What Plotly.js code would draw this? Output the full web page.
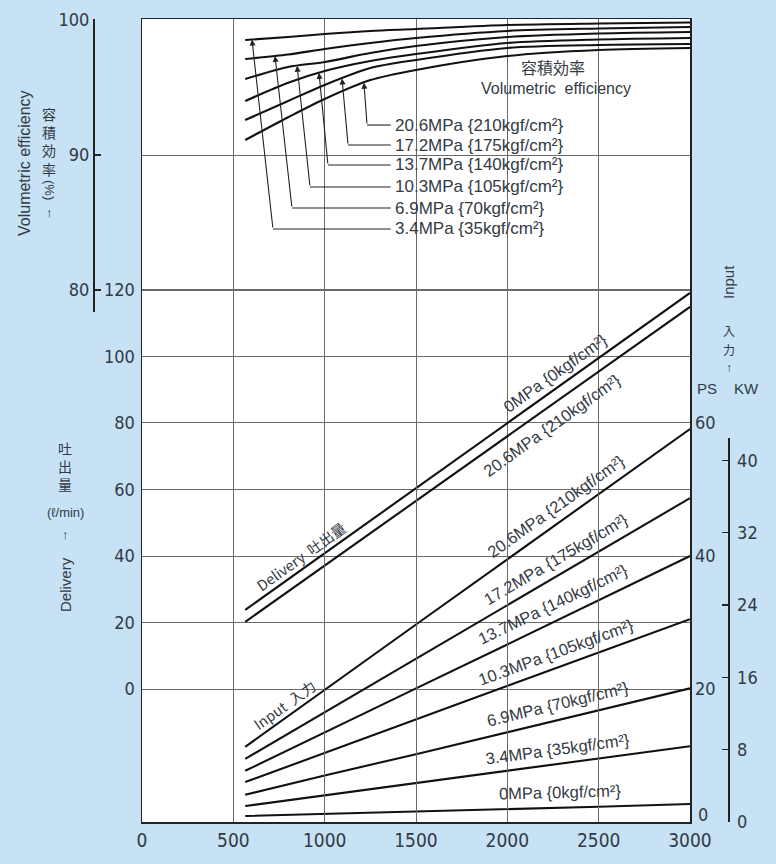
<!DOCTYPE html>
<html>
<head>
<meta charset="utf-8">
<script src="https://cdn.plot.ly/plotly-3.0.1.min.js"></script>
<style>html,body{margin:0;padding:0;background:#c6e2f4;}#chart{width:776px;height:864px;}</style>
</head>
<body>
<div id="chart"></div>
<script>
// ---------- data ----------
// rotational speed (rpm) for straight delivery / input lines
const rpmLines = [565, 1000, 1500, 2000, 2500, 3000];
// delivery (l/min)
const delivery0MPa   = [23.8, 40.8, 60.4, 80.0, 99.5, 119.1];
const delivery206MPa = [20.2, 37.1, 56.6, 76.0, 95.5, 114.9];
// input power (PS)
const input206MPa = [11.3, 19.8, 29.7, 39.5, 49.3, 59.1];
const input172MPa = [9.5, 16.5, 24.6, 32.6, 40.7, 48.7];
const input137MPa = [7.7, 13.5, 20.1, 26.7, 33.4, 40.0];
const input103MPa = [6.0, 10.4, 15.4, 20.4, 25.5, 30.5];
const input69MPa  = [4.1, 7.0, 10.2, 13.5, 16.8, 20.1];
const input34MPa  = [2.4, 4.0, 5.9, 7.7, 9.6, 11.4];
const input0MPa   = [0.9, 1.2, 1.6, 2.0, 2.3, 2.7];
// volumetric efficiency (%)
const rpmEff = [565, 800, 1000, 1250, 1500, 2000, 2500, 3000];
const eff34MPa  = [98.52, 98.74, 98.96, 99.19, 99.33, 99.63, 99.74, 99.81];
const eff69MPa  = [97.11, 97.44, 97.85, 98.30, 98.67, 99.19, 99.37, 99.48];
const eff103MPa = [95.63, 96.52, 96.89, 97.56, 98.07, 98.74, 99.00, 99.11];
const eff137MPa = [94.00, 95.35, 96.22, 96.96, 97.48, 98.30, 98.56, 98.67];
const eff172MPa = [92.59, 94.00, 95.19, 96.44, 97.04, 97.93, 98.15, 98.22];
const eff206MPa = [91.11, 92.80, 94.15, 95.55, 96.30, 97.33, 97.78, 97.93];
// tick labels
const xTicks = [0, 500, 1000, 1500, 2000, 2500, 3000];
const deliveryTicks = [0, 20, 40, 60, 80, 100, 120];
const effTicks = [80, 90, 100];
const psTicks = [20, 40, 60];
const psZeroLabel = '0';
const kwTicks = [0, 8, 16, 24, 32, 40];
// labels
const effLabels = ['3.4MPa {35kgf/cm²}', '6.9MPa {70kgf/cm²}', '10.3MPa {105kgf/cm²}',
                   '13.7MPa {140kgf/cm²}', '17.2MPa {175kgf/cm²}', '20.6MPa {210kgf/cm²}'];

// ---------- styling helpers ----------
const W = 776, H = 864, MT = 13, MB = 42;
const PH = H - MT - MB;
function px(x) { return x / W; }
function py(y) { return (H - MB - y) / PH; }
const TXT = '#333a44';
const NUMFONT = 'Liberation Sans Narrow, DejaVu Sans Condensed, Liberation Sans, Arial, sans-serif';
const SANS = 'Liberation Sans, Arial, sans-serif';
const CJK = 'Noto Sans CJK JP, Noto Sans CJK SC, sans-serif';
const LINE = '#111';

function interp(xs, ys, x) {
  for (let i = 0; i < xs.length - 1; i++) {
    if (x >= xs[i] && x <= xs[i + 1]) {
      const t = (x - xs[i]) / (xs[i + 1] - xs[i]);
      return ys[i] + t * (ys[i + 1] - ys[i]);
    }
  }
  return ys[ys.length - 1];
}

// ---------- traces ----------
const traces = [];
function addLine(x, y, yaxis, shape) {
  traces.push({x: x, y: y, xaxis: 'x', yaxis: yaxis, mode: 'lines', type: 'scatter',
    line: {color: LINE, width: 2.1, shape: shape || 'linear', smoothing: 0.8},
    hoverinfo: 'skip', showlegend: false, cliponaxis: false});
}
addLine(rpmLines, delivery0MPa, 'y');
addLine(rpmLines, delivery206MPa, 'y');
[input206MPa, input172MPa, input137MPa, input103MPa, input69MPa, input34MPa, input0MPa]
  .forEach(s => addLine(rpmLines, s, 'y3'));
const effSeries = [eff34MPa, eff69MPa, eff103MPa, eff137MPa, eff172MPa, eff206MPa];
effSeries.forEach(s => addLine(rpmEff, s, 'y2', 'spline'));
// invisible helper so that the kW axis subplot exists
traces.push({x: rpmLines, y: input0MPa, xaxis: 'x', yaxis: 'y4', mode: 'lines', opacity: 0,
  line: {width: 0}, hoverinfo: 'skip', showlegend: false});

// ---------- annotations & shapes ----------
const annotations = [];
const shapes = [];
function note(text, x, y, opts) {
  annotations.push(Object.assign({text: text, xref: 'paper', yref: 'paper', x: px(x), y: py(y),
    showarrow: false, xanchor: 'center', yanchor: 'middle',
    font: {family: SANS, size: 15, color: TXT}}, opts || {}));
}
// left titles
note('Volumetric efficiency', 24, 163, {textangle: -90, font: {family: SANS, size: 16, color: TXT}});
note('容<br>積<br>効<br>率', 49, 141, {font: {family: CJK, size: 14, color: TXT}});
note('(%)', 49, 190, {textangle: 90, font: {family: SANS, size: 13, color: TXT}});
note('↑', 49, 213, {font: {family: SANS, size: 13, color: TXT}});
note('吐<br>出<br>量', 65, 466, {font: {family: CJK, size: 14, color: TXT}});
note('(ℓ/min)', 65, 512, {font: {family: SANS, size: 13, color: TXT}});
note('↑', 65, 534, {font: {family: SANS, size: 13, color: TXT}});
note('Delivery', 65, 585, {textangle: -90, font: {family: SANS, size: 15, color: TXT}});
// right titles
note('Input', 728, 282, {textangle: -90, font: {family: SANS, size: 15, color: TXT}});
note('入', 729, 331, {font: {family: CJK, size: 12, color: TXT}});
note('力', 729, 349, {font: {family: CJK, size: 12, color: TXT}});
note('↑', 729, 368, {font: {family: SANS, size: 12, color: TXT}});
note('PS', 707, 389, {font: {family: SANS, size: 15, color: TXT}});
note('KW', 746, 389, {font: {family: SANS, size: 15, color: TXT}});
// PS zero label sits slightly above the corner
note(psZeroLabel, 696, 814, {xanchor: 'left', font: {family: NUMFONT, size: 18, color: TXT}});
// efficiency block labels
note('容積効率', 553, 67, {font: {family: CJK, size: 16, color: TXT}});
note('Volumetric  efficiency', 556, 89, {font: {family: SANS, size: 16, color: TXT}});
// line labels
const LF = {family: SANS, size: 16.5, color: TXT};
note('0MPa {0kgf/cm²}', 555, 373, {textangle: -35.5, font: LF});
note('20.6MPa {210kgf/cm²}', 552, 425, {textangle: -35.5, font: LF});
note('Delivery  吐出量', 300, 556, {textangle: -35.5, font: {family: CJK, size: 14.5, color: TXT}});
note('Input  入力', 284, 704, {textangle: -35.5, font: {family: CJK, size: 14.5, color: TXT}});
note('20.6MPa {210kgf/cm²}', 556, 506, {textangle: -35.5, font: LF});
note('17.2MPa {175kgf/cm²}', 556, 559, {textangle: -30.4, font: LF});
note('13.7MPa {140kgf/cm²}', 553, 604, {textangle: -25.8, font: LF});
note('10.3MPa {105kgf/cm²}', 556, 652, {textangle: -20.1, font: LF});
note('6.9MPa {70kgf/cm²}', 557, 704, {textangle: -13.5, font: LF});
note('3.4MPa {35kgf/cm²}', 557, 749, {textangle: -7.7, font: LF});
note('0MPa {0kgf/cm²}', 560, 792, {textangle: -1.5, font: LF});

// efficiency callouts: arrow tip rpm, leader bottom rpm, label row (%)
const calloutTip = [602, 728, 849, 969, 1095, 1215];
const calloutFoot = [717, 821, 920, 1018, 1128, 1232];
const calloutRow = [84.52, 86.07, 87.63, 89.26, 90.74, 92.22];
const labelX = 1374;
effSeries.forEach((s, i) => {
  const tipY = interp(rpmEff, s, calloutTip[i]);
  annotations.push({text: '', x: calloutTip[i], y: tipY, xref: 'x', yref: 'y2',
    ax: calloutFoot[i], ay: calloutRow[i], axref: 'x', ayref: 'y2',
    showarrow: true, arrowhead: 2, arrowsize: 1.1, arrowwidth: 1.1, arrowcolor: '#222'});
  shapes.push({type: 'line', xref: 'x', yref: 'y2', x0: calloutFoot[i], x1: labelX - 12,
    y0: calloutRow[i], y1: calloutRow[i], line: {color: '#222', width: 1.1}});
  annotations.push({text: effLabels[i], x: labelX, y: calloutRow[i], xref: 'x', yref: 'y2',
    xanchor: 'left', yanchor: 'middle', showarrow: false,
    font: {family: SANS, size: 17, color: TXT}});
});

// white plot background
shapes.push({type: 'rect', xref: 'paper', yref: 'paper', layer: 'below',
  x0: px(142), x1: px(690), y0: py(822), y1: py(19), fillcolor: '#ffffff', line: {width: 0}});

const tickFont = {family: NUMFONT, size: 18, color: TXT};
const GRID = '#6a6a6a';
const layout = {
  width: W, height: H,
  margin: {l: 0, r: 0, t: MT, b: MB, pad: 0},
  paper_bgcolor: '#c6e2f4',
  plot_bgcolor: 'rgba(0,0,0,0)',
  showlegend: false,
  xaxis: {domain: [px(142), px(690)], range: [0, 3000], tickvals: xTicks, ticktext: xTicks.map(String),
    showgrid: true, gridcolor: GRID, gridwidth: 1, zeroline: false,
    showline: true, mirror: true, linecolor: '#222', linewidth: 1.5, ticks: '',
    tickfont: {family: NUMFONT, size: 19, color: TXT}, ticklabelstandoff: 1},
  yaxis: {domain: [0, py(19)], range: [-40, 201.5], tickvals: deliveryTicks,
    showgrid: true, gridcolor: GRID, gridwidth: 1, zeroline: false,
    showline: true, mirror: true, linecolor: '#222', linewidth: 1.5, ticks: '',
    tickfont: tickFont, ticklabelstandoff: 2},
  yaxis2: {domain: [py(312), py(19)], range: [78.37, 100.074], anchor: 'free', position: px(93),
    side: 'left', tickvals: effTicks, ticks: 'inside', ticklen: 6, tickcolor: '#222', tickwidth: 1.2,
    showline: true, linecolor: '#222', linewidth: 1.5, showgrid: true, gridcolor: GRID, gridwidth: 1,
    zeroline: false, tickfont: tickFont},
  yaxis3: {overlaying: 'y', side: 'right', anchor: 'x', range: [0, 120.75], tickvals: psTicks,
    ticks: '', showgrid: false, zeroline: false, showline: false, tickfont: tickFont, ticklabelstandoff: 4},
  yaxis4: {domain: [0, py(438)], anchor: 'free', position: px(728), side: 'right', range: [0, 42.48],
    tickvals: kwTicks, ticks: 'inside', ticklen: 6, tickcolor: '#222', tickwidth: 1.2,
    showline: true, linecolor: '#222', linewidth: 1.5, showgrid: false, zeroline: false,
    tickfont: tickFont, ticklabelstandoff: 4},
  annotations: annotations,
  shapes: shapes
};

Plotly.newPlot('chart', traces, layout, {staticPlot: true, displayModeBar: false});
</script>
</body>
</html>
